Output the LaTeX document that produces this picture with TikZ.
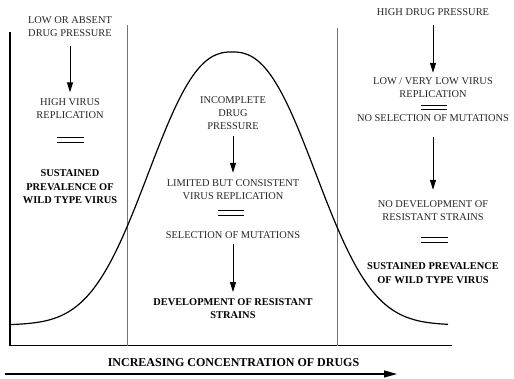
\documentclass[tikz,border=0pt]{standalone}
\usepackage{fontspec}
\setmainfont{Liberation Serif}
\usetikzlibrary{arrows.meta}

\begin{document}
\begin{tikzpicture}[x=1pt, y=-1pt, txt/.style={align=center, text=black!85, inner sep=1pt,
		font=\fontsize{10.4}{13}\selectfont}, bld/.style={txt, text=black,
		font=\fontsize{10.4}{13.5}\selectfont\bfseries}, arr/.style={line width=1pt,
		-{Triangle[length=10pt,width=6pt]}, shorten <=3pt, shorten >=3pt},
		eq/.style={double, double distance=3.2pt, line width=1.2pt}, divd/.style={draw=black!55, line width=0.9pt}]
	\useasboundingbox (0,0) rectangle (514,379);
	% frame
	\coordinate (top) at (10,32);
	\coordinate (orig) at (10,345.5);
	\coordinate (xend) at (452,345.5);
	\draw[line width=1.2pt] (top) -- (orig) -- (xend);
	\draw[divd] (127,25) -- (127,345.5);
	\draw[divd] (337,28) -- (337,345.5);
	% curve
	\draw[line width=1.2pt] plot[domain=10:448, samples=150, smooth]
		(\x, {325-273*exp(-(abs(\x-232)/104+0.0001)^2.45)});
	% left column
	\node[txt] (lowp) at (70,27) {LOW OR ABSENT\\DRUG PRESSURE};
	\node[txt] (highrep) at (70,108.5) {HIGH VIRUS\\REPLICATION};
	\node[bld] (sustl) at (70,187) {SUSTAINED\\PREVALENCE OF\\WILD TYPE VIRUS};
	\draw[arr, shorten <=8pt, shorten >=5pt] (lowp) -- (highrep);
	\draw[eq] (57,140) -- (84,140);
	% middle column
	\node[txt] (incp) at (233,113.5) {INCOMPLETE\\DRUG\\PRESSURE};
	\node[txt] (limrep) at (233,190) {LIMITED BUT CONSISTENT\\VIRUS REPLICATION};
	\node[txt] (selm) at (233,235) {SELECTION OF MUTATIONS};
	\node[bld] (devr) at (233,308.5) {DEVELOPMENT OF RESISTANT\\STRAINS};
	\draw[arr, shorten <=5pt, shorten >=6pt] (incp) -- (limrep);
	\draw[eq] (218,213) -- (244,213);
	\draw[arr, shorten <=4pt, shorten >=5pt] (selm) -- (devr);
	% right column
	\node[txt] (highp) at (433,12) {HIGH DRUG PRESSURE};
	\node[txt] (lowrep) at (433,88) {LOW / VERY LOW VIRUS\\REPLICATION};
	\node[txt] (nosel) at (433,118) {NO SELECTION OF MUTATIONS};
	\node[txt] (nodev) at (433,211) {NO DEVELOPMENT OF\\RESISTANT STRAINS};
	\node[bld] (sustr) at (433,273) {SUSTAINED PREVALENCE\\OF WILD TYPE VIRUS};
	\draw[arr, shorten <=8pt, shorten >=4pt] (highp) -- (lowrep);
	\draw[eq] (421,107.5) -- (447,107.5);
	\draw[arr, shorten <=14pt, shorten >=10pt] (nosel) -- (nodev);
	\draw[eq] (421,240) -- (448,240);
	% concentration axis
	\node[bld, font=\fontsize{12}{14}\selectfont\bfseries] (conc) at (233.5,363) {INCREASING CONCENTRATION OF DRUGS};
	\coordinate (cstart) at (5,374);
	\coordinate (cend) at (397,374);
	\draw[line width=1.2pt, -{Triangle[length=13pt,width=7pt]}] (cstart) -- (cend);
\end{tikzpicture}
\end{document}
